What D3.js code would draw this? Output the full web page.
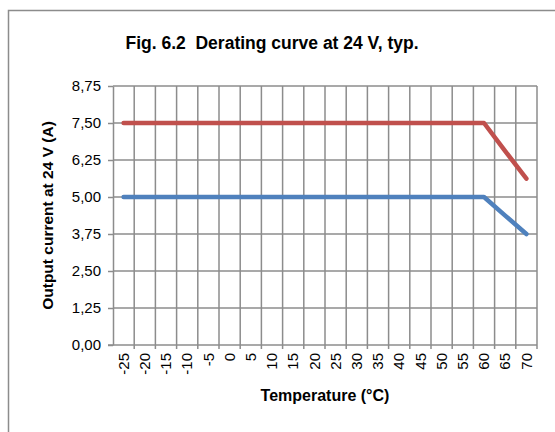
<!DOCTYPE html>
<html>
<head>
<meta charset="utf-8">
<script src="https://cdn.jsdelivr.net/npm/d3@7"></script>
<style>
  body { margin: 0; background: #fff; }
  svg { display: block; font-family: "Liberation Sans", Arial, sans-serif; }
</style>
</head>
<body>
<svg id="svg" width="555" height="432"></svg>
<script>
// data
const temps = [-25, -20, -15, -10, -5, 0, 5, 10, 15, 20, 25, 30, 35, 40, 45, 50, 55, 60, 65, 70];
const currentHigh = [7.5, 7.5, 7.5, 7.5, 7.5, 7.5, 7.5, 7.5, 7.5, 7.5, 7.5, 7.5, 7.5, 7.5, 7.5, 7.5, 7.5, 7.5, 6.55, 5.62];
const currentLow = [5, 5, 5, 5, 5, 5, 5, 5, 5, 5, 5, 5, 5, 5, 5, 5, 5, 5, 4.37, 3.75];
const yTicks = [0, 1.25, 2.5, 3.75, 5, 6.25, 7.5, 8.75];

const margin = {top: 86, left: 113, bottom: 87, right: 18};
const width = 555, height = 432;
const grid = "#8c8c8c";

const svg = d3.select("#svg");

// chart area border
svg.append("rect")
    .attr("x", 8.5).attr("y", 10.5)
    .attr("width", 600).attr("height", 500)
    .attr("fill", "none")
    .attr("stroke", grid)
    .attr("stroke-width", 1.5);

const xScale = d3.scaleBand()
    .domain(temps)
    .range([margin.left, width - margin.right])
    .padding(0);
const yScale = d3.scaleLinear()
    .domain([0, 8.75])
    .range([height - margin.bottom, margin.top]);

const fmt = d => d3.format(".2f")(d).replace(".", ",");

// horizontal gridlines
svg.append("g").selectAll("line")
    .data(yTicks.filter(d => d > 0))
    .join("line")
    .attr("x1", margin.left).attr("x2", width - margin.right)
    .attr("y1", d => yScale(d)).attr("y2", d => yScale(d))
    .attr("stroke", grid).attr("stroke-width", 1.5);

// vertical gridlines at category boundaries
const bounds = temps.map(t => xScale(t) + xScale.bandwidth());
svg.append("g").selectAll("line")
    .data(bounds)
    .join("line")
    .attr("x1", d => d).attr("x2", d => d)
    .attr("y1", yScale(8.75)).attr("y2", yScale(0) + 4)
    .attr("stroke", grid).attr("stroke-width", 1.5);

// y axis
const yAxis = d3.axisLeft(yScale).tickValues(yTicks).tickFormat(fmt).tickSize(5).tickSizeOuter(0);
const gy = svg.append("g")
    .attr("transform", "translate(" + margin.left + ",0)")
    .call(yAxis);
gy.select(".domain").attr("stroke", grid).attr("stroke-width", 1.5);
gy.selectAll(".tick line").attr("stroke", grid).attr("stroke-width", 1.5);
gy.selectAll(".tick text")
    .attr("x", -12)
    .attr("font-size", 15)
    .attr("fill", "#000")
    .style("font-family", "'Liberation Sans', Arial, sans-serif");

// x axis (labels only; ticks drawn by gridlines)
const xAxis = d3.axisBottom(xScale).tickSize(0).tickSizeOuter(0);
const gx = svg.append("g")
    .attr("transform", "translate(0," + yScale(0) + ")")
    .call(xAxis);
gx.select(".domain").attr("stroke", grid).attr("stroke-width", 1.5)
    .attr("d", "M" + (margin.left - 5) + ",0H" + (width - margin.right));
gx.selectAll(".tick text")
    .attr("transform", "rotate(-90)")
    .attr("x", -8)
    .attr("y", 0)
    .attr("dy", "0.35em")
    .attr("text-anchor", "end")
    .attr("font-size", 15)
    .attr("fill", "#000")
    .style("font-family", "'Liberation Sans', Arial, sans-serif");

// series lines
const line = d3.line()
    .x((d, i) => xScale(temps[i]) + xScale.bandwidth() / 2)
    .y(d => yScale(d));

[[currentHigh, "#C0504D"], [currentLow, "#4F81BD"]].forEach(([vals, col]) => {
    svg.append("path")
        .datum(vals)
        .attr("d", line)
        .attr("fill", "none")
        .attr("stroke", col)
        .attr("stroke-width", 4.5)
        .attr("stroke-linecap", "round")
        .attr("stroke-linejoin", "round");
});

// titles
svg.append("text")
    .attr("x", 272).attr("y", 49)
    .attr("text-anchor", "middle")
    .attr("font-size", 17.5).attr("font-weight", "bold")
    .style("white-space", "pre")
    .text("Fig. 6.2  Derating curve at 24 V, typ.");

svg.append("text")
    .attr("x", (margin.left + width - margin.right) / 2).attr("y", 401)
    .attr("text-anchor", "middle")
    .attr("font-size", 16).attr("font-weight", "bold")
    .text("Temperature (°C)");

svg.append("text")
    .attr("transform", "translate(53," + (yScale(8.75) + yScale(0)) / 2 + ") rotate(-90)")
    .attr("text-anchor", "middle")
    .attr("font-size", 15.5).attr("font-weight", "bold")
    .text("Output current at 24 V (A)");
</script>
</body>
</html>
